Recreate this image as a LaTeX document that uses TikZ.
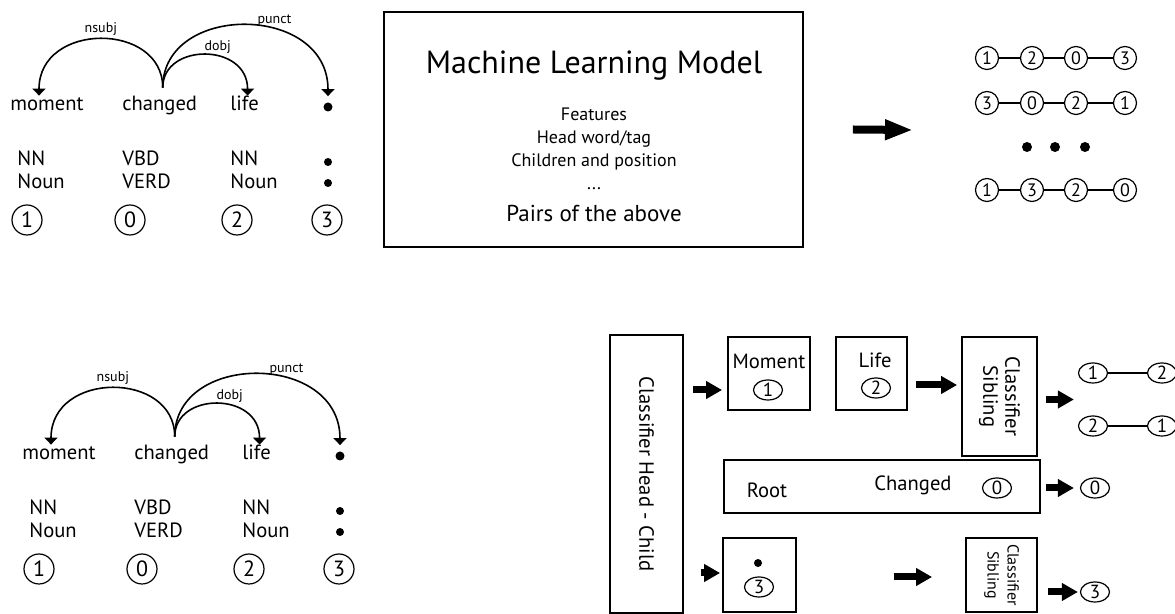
\documentclass[tikz,border=0pt]{standalone}
\usepackage{fontspec}
\setmainfont{PT Sans}
\usetikzlibrary{arrows.meta,calc,shapes.geometric}

\begin{document}
\begin{tikzpicture}[
  x=0.5pt, y=-0.5pt,
  word/.style={anchor=base west,inner sep=0,text height=7.5pt,text depth=2pt,font=\fontsize{10.3}{12}\selectfont},
  tag/.style={anchor=base west,inner sep=0,font=\fontsize{10.3}{12}\selectfont},
  idx/.style={draw,circle,line width=0.6pt,minimum size=15pt,inner sep=0,font=\fontsize{11}{12}\selectfont},
  cnode/.style={draw,circle,line width=0.6pt,minimum size=11.5pt,inner sep=0,font=\fontsize{9}{10}\selectfont},
  oval/.style={draw,ellipse,line width=0.6pt,minimum width=14.5pt,minimum height=10pt,inner sep=0,font=\fontsize{9.5}{10}\selectfont},
  dot/.style={fill,circle,minimum size=4pt,inner sep=0},
  box/.style={draw,line width=0.9pt,inner sep=0},
  txt/.style={inner sep=0,font=\fontsize{10.3}{12}\selectfont},
  lbl/.style={inner sep=1.5pt,font=\fontsize{7}{8}\selectfont},
  dep/.style={line width=0.8pt,-{Triangle[length=3.5pt,width=6.5pt]}},
  fat/.style={line width=4pt,-{Triangle[length=14pt,width=9.5pt]}},
  push/.style={line width=3.5pt,-{Triangle[length=8pt,width=8.5pt]}},
  link/.style={line width=0.9pt}
]
  \useasboundingbox (0,0) rectangle (1175,614);

  % the parse, drawn twice
  \foreach \p/\dx/\dy in {t/0/0,b/12/349}{
    \begin{scope}[shift={(\dx,\dy)}]
      \node[word] (\p-moment) at (10,111) {moment};
      \node[word] (\p-changed) at (122,111) {changed};
      \node[word] (\p-life) at (230,111) {life};
      \node[dot,minimum size=4.5pt] (\p-punct) at (328,107) {};
      \node[tag] (\p-nn1) at (17,166) {NN};
      \node[tag] (\p-noun1) at (17,189) {Noun};
      \node[tag] (\p-vbd) at (122,166) {VBD};
      \node[tag] (\p-verd) at (122,189) {VERD};
      \node[tag] (\p-nn2) at (230,166) {NN};
      \node[tag] (\p-noun2) at (230,189) {Noun};
      \node[dot] (\p-d1) at (328,162) {};
      \node[dot] (\p-d2) at (328,183) {};
      \node[idx] (\p-i1) at (27,220) {1};
      \node[idx] (\p-i0) at (130,220) {0};
      \node[idx] (\p-i2) at (237,220) {2};
      \node[idx] (\p-i3) at (327,220) {3};
      \draw[dep] ([xshift=1.5pt,yshift=4pt]\p-changed.north) .. controls +(0,-66) and +(0,-74) .. ([xshift=-4pt]\p-moment.north) node[lbl,pos=.5,above] {nsubj};
      \draw[dep] ([xshift=1.5pt,yshift=4pt]\p-changed.north) .. controls +(0,-45) and +(0,-53) .. ([xshift=1.5pt]\p-life.north) node[lbl,pos=.6,above] {dobj};
      \draw[dep] ([xshift=1.5pt,yshift=4pt]\p-changed.north) .. controls +(0,-85) and +(0,-93) .. ([yshift=3pt]\p-punct.north) node[lbl,pos=.62,above] {punct};
    \end{scope}
  }

  % model box
  \node[box,minimum width=209.5pt,minimum height=117.5pt] (ml) at (593.5,129.5) {};
  \node[anchor=base,inner sep=0,font=\fontsize{16}{19}\selectfont] (title) at (594,74) {Machine Learning Model};
  \node[anchor=base,inner sep=0,font=\fontsize{9}{11}\selectfont] (feat) at (594,121) {Features};
  \node[anchor=base,inner sep=0,font=\fontsize{9}{11}\selectfont] (headw) at (594,144) {Head word/tag};
  \node[anchor=base,inner sep=0,font=\fontsize{9}{11}\selectfont] (child) at (594,167) {Children and position};
  \node[anchor=base,inner sep=0,font=\fontsize{9}{11}\selectfont] (etc) at (594,190) {...};
  \node[anchor=base,inner sep=0,font=\fontsize{11.5}{14}\selectfont] (pairs) at (594,222) {Pairs of the above};
  \coordinate (out) at (913,130);
  \draw[fat] ([xshift=24.5pt]ml.east) -- (out);

  % candidate orders
  \foreach \r/\y/\a/\b/\c/\d in {1/58/1/2/0/3,2/103/3/0/2/1,4/190/1/3/2/0}{
    \node[cnode] (s\r a) at (987,\y) {\a};
    \node[cnode] (s\r b) at (1032,\y) {\b};
    \node[cnode] (s\r c) at (1076,\y) {\c};
    \node[cnode] (s\r d) at (1125,\y) {\d};
    \draw[link] (s\r a) -- (s\r b) -- (s\r c) -- (s\r d);
  }
  \foreach \x [count=\i] in {1027,1055,1085}
    \node[dot,minimum size=5pt] (gap\i) at (\x,147) {};

  % classifiers
  \node[box,rotate=-90,minimum width=139pt,minimum height=36.5pt,txt] (hc) at (646.5,474) {Classifier Head - Child};

  \node[box,minimum width=41pt,minimum height=36.5pt] (mbox) at (769,373.5) {};
  \node[txt] (mword) at (769,361) {Moment};
  \node[oval] (m1) at (768,390) {1};

  \node[box,minimum width=35.5pt,minimum height=36.5pt] (lbox) at (871.5,373.5) {};
  \node[txt] (lword) at (875,360) {Life};
  \node[oval] (l2) at (876,388) {2};

  \node[box,rotate=-90,minimum width=59.5pt,minimum height=37.5pt,align=center,txt,font=\fontsize{10.3}{11}\selectfont] (sib1) at (999.5,396.5) {Classifier\\Sibling};
  \node[oval] (p1a) at (1093,373) {1};
  \node[oval] (p1b) at (1162,373) {2};
  \node[oval] (p2a) at (1093,426) {2};
  \node[oval] (p2b) at (1162,426) {1};
  \draw[link] (p1a) -- (p1b);
  \draw[link] (p2a) -- (p2b);

  \node[box,minimum width=158pt,minimum height=26.5pt] (rbox) at (882,486.5) {};
  \node[txt] (root) at (767,490) {Root};
  \node[txt] (chg) at (913,485) {Changed};
  \node[oval] (r0) at (997,488) {0};
  \node[oval] (o0) at (1095,488) {0};

  \node[box,minimum width=36.5pt,minimum height=37pt] (pbox) at (759.5,575) {};
  \node[dot] (pdot) at (758,563) {};
  \node[oval] (p3) at (759,587) {3};

  \node[box,rotate=-90,minimum width=37pt,minimum height=35.5pt,align=center,txt,font=\fontsize{8}{10}\selectfont] (sib2) at (1001.5,575) {Classifier\\Sibling};
  \node[oval] (o3) at (1095,592) {3};

  \draw[push] ($(hc.north |- m1)+(9,0)$) -- ($(mbox.west |- m1)+(-5,0)$);
  \draw[push] ($(lbox.east |- l2)+(8,-3)$) -- ($(sib1.south |- l2)+(-4,-3)$);
  \draw[push] ($(sib1.north)+(8,3)$) -- ($(p1a.west)!.5!(p2a.west)+(-4,0)$);
  \draw[push] ($(rbox.east |- r0)+(5,0)$) -- ($(o0.west)+(-6,0)$);
  \draw[push] ($(hc.north |- pbox)+(17,-2)$) -- ($(pbox.west)+(-2,-2)$);
  \draw[push] ($(pbox.east)+(97,2)$) -- ($(sib2.south)+(-33,2)$);
  \draw[push] ($(sib2.north |- o3)+(10,0)$) -- ($(o3.west)+(-2,0)$);
\end{tikzpicture}
\end{document}
